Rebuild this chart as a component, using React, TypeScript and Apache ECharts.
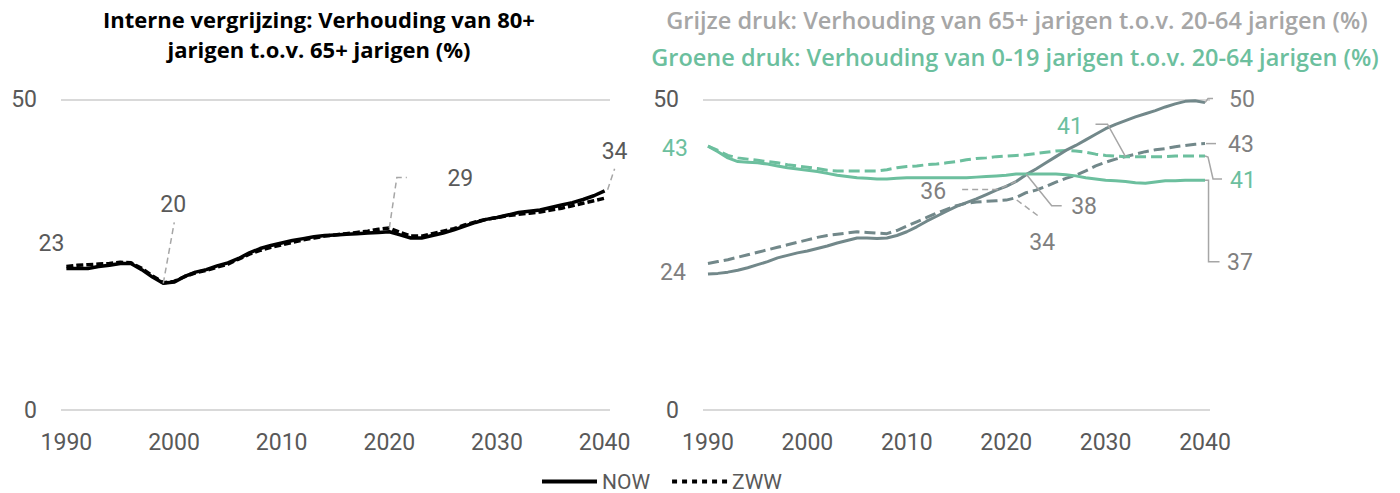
import React, { useEffect, useRef } from 'react';
import * as echarts from 'echarts';

// ---------- DATA ----------
const years: string[] = [
  '1990','1991','1992','1993','1994','1995','1996','1997','1998','1999',
  '2000','2001','2002','2003','2004','2005','2006','2007','2008','2009',
  '2010','2011','2012','2013','2014','2015','2016','2017','2018','2019',
  '2020','2021','2022','2023','2024','2025','2026','2027','2028','2029',
  '2030','2031','2032','2033','2034','2035','2036','2037','2038','2039','2040',
];

// Interne vergrijzing (80+ / 65+)
const internNOW: number[] = [
  22.8,22.8,22.8,23.1,23.3,23.6,23.6,22.6,21.4,20.4,
  20.6,21.5,22.2,22.6,23.2,23.7,24.4,25.3,26.0,26.5,
  26.9,27.3,27.6,27.9,28.1,28.2,28.3,28.4,28.5,28.6,
  28.7,28.2,27.7,27.7,28.1,28.5,29.0,29.6,30.2,30.7,
  31.0,31.4,31.8,32.0,32.2,32.6,33.0,33.4,33.9,34.5,35.3,
];
const internZWW: number[] = [
  23.1,23.3,23.4,23.5,23.6,23.8,23.7,22.8,21.6,20.5,
  20.7,21.5,22.1,22.5,23.0,23.5,24.3,25.1,25.7,26.2,
  26.6,27.0,27.4,27.7,28.0,28.2,28.4,28.6,28.8,29.1,
  29.3,28.6,28.0,28.0,28.4,28.8,29.2,29.8,30.3,30.7,
  31.0,31.3,31.5,31.7,31.9,32.2,32.5,32.9,33.3,33.7,34.1,
];

// Grijze druk (65+ / 20-64)
const grijsNOW: number[] = [
  21.9,22.0,22.2,22.5,22.9,23.4,23.9,24.5,24.9,25.3,
  25.6,26.0,26.4,26.9,27.3,27.7,27.7,27.6,27.7,28.1,
  28.7,29.5,30.4,31.2,32.0,32.8,33.4,34.0,34.7,35.4,
  36.0,36.8,37.9,38.8,39.8,40.8,41.8,42.6,43.5,44.4,
  45.3,46.0,46.6,47.2,47.7,48.2,48.8,49.3,49.7,49.8,49.5,
];
const grijsZWW: number[] = [
  23.6,23.9,24.2,24.6,25.0,25.4,25.8,26.2,26.6,27.0,
  27.4,27.8,28.1,28.3,28.5,28.7,28.6,28.5,28.4,28.9,
  29.6,30.3,31.0,31.7,32.3,32.9,33.3,33.5,33.6,33.7,
  33.8,34.2,35.0,35.4,36.0,36.7,37.3,37.8,38.5,39.3,
  39.9,40.4,40.8,41.2,41.6,41.9,42.1,42.4,42.6,42.8,42.9,
];

// Groene druk (0-19 / 20-64)
const groenNOW: number[] = [
  42.5,41.6,40.6,40.0,39.9,39.8,39.6,39.3,39.0,38.8,
  38.6,38.4,38.1,37.8,37.6,37.4,37.3,37.2,37.2,37.3,
  37.4,37.4,37.4,37.4,37.4,37.4,37.4,37.5,37.6,37.7,
  37.8,38.0,38.0,38.0,38.0,38.0,37.9,37.7,37.4,37.2,
  37.0,36.9,36.8,36.6,36.5,36.7,36.9,36.9,37.0,37.0,37.0,
];
const groenZWW: number[] = [
  42.5,41.8,41.0,40.6,40.4,40.2,40.0,39.8,39.5,39.3,
  39.1,38.9,38.6,38.5,38.5,38.5,38.5,38.5,38.7,39.0,
  39.2,39.3,39.5,39.6,39.8,40.0,40.3,40.5,40.6,40.8,
  40.9,41.0,41.1,41.3,41.5,41.7,41.8,41.7,41.5,41.2,
  41.0,40.9,40.8,40.8,40.8,40.8,40.8,40.9,40.9,40.9,40.9,
];

const yTicks = { min: 0, max: 50, interval: 50 };
const legendNames = ['NOW', 'ZWW'];

const leftTitle = 'Interne vergrijzing: Verhouding van 80+\njarigen t.o.v. 65+ jarigen (%)';
const rightTitle1 = 'Grijze druk: Verhouding van 65+ jarigen t.o.v. 20-64 jarigen (%)';
const rightTitle2 = 'Groene druk: Verhouding van 0-19 jarigen t.o.v. 20-64 jarigen (%)';

// data labels: which series/year they belong to, and their text
const labelTexts = {
  l23: '23', l20: '20', l29: '29', l34: '34',
  r43: '43', r24: '24', r50: '50', r43e: '43', r41e: '41', r37: '37',
  r41m: '41', r38: '38', r34: '34', r36: '36',
};

// ---------- STYLES ----------
const FONT = 'Roboto, "Noto Sans", sans-serif';
const TITLE_FONT = '"Open Sans", sans-serif';
const GRAY_TXT = '#595959';
const LBL_GRAY = '#7f7f7f';
const GREEN = '#6cbf9e';
const SLATE = '#72888a';
const GRID_C = '#d9d9d9';
const LEAD = '#a6a6a6';

// legend icons (solid bar and square-dotted bar)
const ICON_SOLID = 'path://M0,0H55V4H0Z';
const ICON_DOTS = 'path://M0,0h5v4h-5z M10,0h5v4h-5z M20,0h5v4h-5z M30,0h5v4h-5z M40,0h5v4h-5z M50,0h5v4h-5z';

const seriesMap: Record<string, number[]> = {
  internNOW, internZWW, grijsNOW, grijsZWW, groenNOW, groenZWW,
};

type Ann = {
  grid: number; series: string; year: string; key: keyof typeof labelTexts;
  color: string; dx: number; dy: number; leader?: number[][]; dashed?: boolean;
};
const annotations: Ann[] = [
  { grid: 0, series: 'internNOW', year: '1990', key: 'l23', color: GRAY_TXT, dx: -15, dy: -25 },
  { grid: 0, series: 'internNOW', year: '1999', key: 'l20', color: GRAY_TXT, dx: 10, dy: -79, leader: [[0, 0], [11, -61]], dashed: true },
  { grid: 0, series: 'internZWW', year: '2020', key: 'l29', color: GRAY_TXT, dx: 71, dy: -50, leader: [[0, 0], [7.5, -50.5], [17.5, -50.5]], dashed: true },
  { grid: 0, series: 'internNOW', year: '2040', key: 'l34', color: GRAY_TXT, dx: 10, dy: -39, leader: [[3, -1], [10, -22]], dashed: true },
  { grid: 1, series: 'groenNOW', year: '1990', key: 'r43', color: GREEN, dx: -33, dy: 2 },
  { grid: 1, series: 'grijsZWW', year: '1990', key: 'r24', color: LBL_GRAY, dx: -35, dy: 9 },
  { grid: 1, series: 'grijsNOW', year: '2040', key: 'r50', color: LBL_GRAY, dx: 37, dy: -3, leader: [[0, 0], [3, -4], [8, -4]] },
  { grid: 1, series: 'grijsZWW', year: '2040', key: 'r43e', color: LBL_GRAY, dx: 36, dy: 1, leader: [[1, 0], [11, 0]] },
  { grid: 1, series: 'groenZWW', year: '2040', key: 'r41e', color: GREEN, dx: 38, dy: 24, leader: [[0, 0], [3, 1], [8, 23], [17, 23]] },
  { grid: 1, series: 'groenNOW', year: '2040', key: 'r37', color: LBL_GRAY, dx: 35, dy: 82, leader: [[0, 0], [3.5, 0], [3.5, 81.5], [14.5, 81.5]] },
  { grid: 1, series: 'groenZWW', year: '2032', key: 'r41m', color: GREEN, dx: -55.5, dy: -30, leader: [[0, 0], [-18, -32.5], [-30, -32.5]] },
  { grid: 1, series: 'groenNOW', year: '2022', key: 'r38', color: LBL_GRAY, dx: 58, dy: 32, leader: [[0, 0], [25.6, 31.7], [35.6, 31.7]] },
  { grid: 1, series: 'grijsZWW', year: '2021', key: 'r34', color: LBL_GRAY, dx: 26, dy: 44.5, leader: [[0.6, 2.4], [23, 19]], dashed: true },
  { grid: 1, series: 'grijsNOW', year: '2021', key: 'r36', color: LBL_GRAY, dx: -83, dy: 10.5, leader: [[-54, 8], [-18, 8], [0, 0]], dashed: true },
];

function xAxisFor(gridIndex: number) {
  return {
    type: 'category' as const,
    gridIndex,
    data: years,
    boundaryGap: true,
    axisLine: { show: false },
    axisTick: { show: false },
    splitLine: { show: false },
    axisLabel: { interval: 9, color: GRAY_TXT, fontFamily: FONT, fontSize: 23, margin: 21 },
  };
}
function yAxisFor(gridIndex: number) {
  return {
    type: 'value' as const,
    gridIndex,
    min: yTicks.min,
    max: yTicks.max,
    interval: yTicks.interval,
    axisLine: { show: false },
    axisTick: { show: false },
    splitLine: { show: true, lineStyle: { color: GRID_C, width: 2 } },
    axisLabel: { color: GRAY_TXT, fontFamily: FONT, fontSize: 23, margin: 24 },
  };
}
function lineSeries(name: string, data: number[], idx: number, color: string, dashed: number[] | null, width: number, z: number) {
  return {
    type: 'line' as const,
    name,
    xAxisIndex: idx,
    yAxisIndex: idx,
    data,
    showSymbol: false,
    symbol: 'none',
    z,
    lineStyle: { color, width, type: dashed ? dashed : 'solid', cap: 'butt' },
    itemStyle: { color },
    emphasis: { disabled: true },
  };
}

export default function App() {
  const ref = useRef<HTMLDivElement>(null);
  useEffect(() => {
    if (!ref.current) return;
    const chart = echarts.init(ref.current, null, { renderer: 'svg' });
    const option: any = {
      animation: false,
      backgroundColor: '#ffffff',
      textStyle: { fontFamily: FONT },
      title: [
        {
          text: leftTitle, left: 314, top: -1, textAlign: 'center',
          textStyle: { fontFamily: TITLE_FONT, fontWeight: 700, fontSize: 22, color: '#000000', lineHeight: 30, align: 'center' },
        },
        {
          text: rightTitle1, left: 1012, top: 3, textAlign: 'center',
          textStyle: { fontFamily: TITLE_FONT, fontWeight: 600, fontSize: 23.5, color: '#a6a6a6' },
        },
        {
          text: rightTitle2, left: 1010, top: 40, textAlign: 'center',
          textStyle: { fontFamily: TITLE_FONT, fontWeight: 600, fontSize: 23.5, color: GREEN },
        },
      ],
      legend: {
        data: [
          { name: legendNames[0], icon: ICON_SOLID },
          { name: legendNames[1], icon: ICON_DOTS },
        ],
        left: 542, top: 471, padding: 0,
        itemWidth: 55, itemHeight: 4, itemGap: 22,
        itemStyle: { color: '#000000', borderWidth: 0 },
        textStyle: { color: GRAY_TXT, fontFamily: FONT, fontSize: 21 },
        selectedMode: false,
      },
      grid: [
        { left: 61, right: 790, top: 99.5, bottom: 83 },
        { left: 703, right: 190, top: 99.5, bottom: 83 },
      ],
      xAxis: [xAxisFor(0), xAxisFor(1)],
      yAxis: [yAxisFor(0), yAxisFor(1)],
      series: [
        lineSeries('ZWW', internZWW, 0, '#000000', [7, 3], 3.5, 3),
        lineSeries('NOW', internNOW, 0, '#000000', null, 3.5, 4),
        lineSeries('Grijze druk ZWW', grijsZWW, 1, SLATE, [11, 5], 3, 3),
        lineSeries('Grijze druk NOW', grijsNOW, 1, SLATE, null, 3, 4),
        lineSeries('Groene druk ZWW', groenZWW, 1, GREEN, [11, 5], 3, 3),
        lineSeries('Groene druk NOW', groenNOW, 1, GREEN, null, 3, 4),
      ],
    };
    chart.setOption(option);

    const elements: any[] = [];
    annotations.forEach((a) => {
      const data = seriesMap[a.series];
      const idx = years.indexOf(a.year);
      const p = chart.convertToPixel({ xAxisIndex: a.grid, yAxisIndex: a.grid }, [idx, data[idx]]) as number[];
      if (!p) return;
      if (a.leader) {
        elements.push({
          type: 'polyline',
          silent: true,
          z: 10,
          shape: { points: a.leader.map(([dx, dy]) => [p[0] + dx, p[1] + dy]) },
          style: { stroke: LEAD, lineWidth: 1.5, fill: null, lineDash: a.dashed ? [6, 4] : null },
        });
      }
      elements.push({
        type: 'text',
        silent: true,
        z: 11,
        x: p[0] + a.dx,
        y: p[1] + a.dy,
        style: {
          text: labelTexts[a.key],
          fill: a.color,
          font: `23px ${FONT}`,
          align: 'center',
          verticalAlign: 'middle',
          textAlign: 'center',
          textVerticalAlign: 'middle',
        },
      });
    });
    chart.setOption({ graphic: elements });

    return () => chart.dispose();
  }, []);
  return <div ref={ref} style={{ position: 'fixed', left: 0, top: 0, width: 1400, height: 493 }} />;
}
